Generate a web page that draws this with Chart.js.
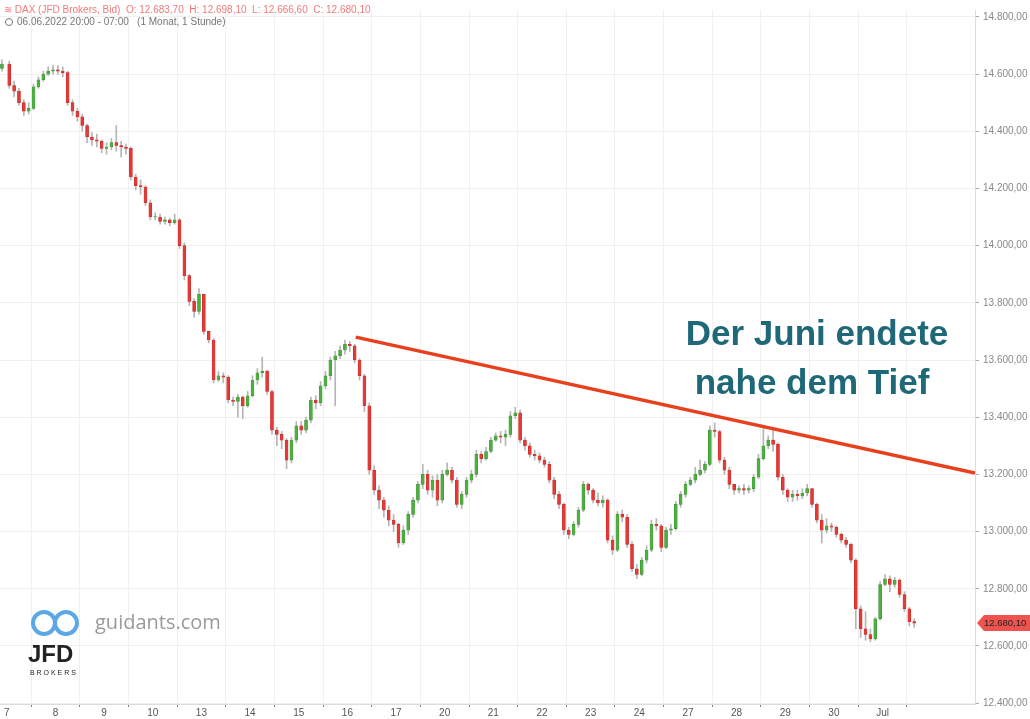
<!DOCTYPE html>
<html>
<head>
<meta charset="utf-8">
<script src="https://cdn.jsdelivr.net/npm/chart.js@4"></script>
<style>
  body { margin: 0; background: #fff; }
  canvas { display: block; }
</style>
</head>
<body>
<canvas id="dax" width="1030" height="719"></canvas>
<script>
// trading days shown on the x axis (index = position)
const dayLabels = ['7', '8', '9', '10', '13', '14', '15', '16', '17', '20', '21', '22', '23', '24', '27', '28', '29', '30', 'Jul'];
// candles per day (first bucket is the 6.6. evening candle)
const candlesPerDay = [1, 10, 10, 10, 10, 10, 10, 10, 10, 10, 10, 10, 10, 10, 10, 10, 10, 10, 10, 7];
const firstOpen = 14620;

const closes = [
  14635,
  14560, 14540, 14500, 14470, 14480, 14555, 14580, 14600, 14610, 14615,
  14610, 14605, 14500, 14470, 14450, 14420, 14380, 14370, 14365, 14340,
  14345, 14360, 14350, 14345, 14340, 14240, 14210, 14205, 14150, 14100,
  14100, 14085, 14090, 14080, 14090, 14000, 13895, 13805, 13770, 13830,
  13700, 13670, 13530, 13545, 13540, 13460, 13455, 13470, 13440, 13475,
  13530, 13555, 13560, 13490, 13355, 13340, 13320, 13250, 13320, 13370,
  13355, 13390, 13460, 13450, 13510, 13545, 13600, 13615, 13635, 13655,
  13650, 13600, 13545, 13440, 13215, 13145, 13110, 13075, 13040, 13025,
  12960, 13005, 13060, 13110, 13165, 13200, 13145, 13180, 13110, 13200,
  13215, 13180, 13095, 13130, 13180, 13200, 13270, 13255, 13280, 13320,
  13335, 13330, 13340, 13405, 13415, 13320, 13300, 13270, 13265, 13250,
  13235, 13180, 13130, 13095, 13005, 12990, 13025, 13075, 13165, 13145,
  13110, 13100, 13110, 12970, 12935, 13060, 13050, 12955, 12870, 12850,
  12900, 12935, 13025, 13020, 12945, 13005, 13010, 13095, 13130, 13165,
  13180, 13200, 13215, 13235, 13355, 13350, 13250, 13215, 13165, 13145,
  13150, 13145, 13150, 13190, 13255, 13300, 13320, 13305, 13190, 13145,
  13120, 13130, 13125, 13135, 13150, 13095, 13040, 13005, 13020, 13015,
  12990, 12970, 12955, 12900, 12730, 12660, 12640, 12625, 12695, 12815,
  12835, 12815, 12830, 12780, 12730, 12685, 12680
];
const highs = [
  14650,
  14645, 14575, 14550, 14510, 14500, 14565, 14590, 14610, 14625, 14630,
  14630, 14625, 14610, 14510, 14480, 14460, 14425, 14395, 14390, 14370,
  14360, 14375, 14420, 14365, 14355, 14345, 14250, 14230, 14210, 14160,
  14115, 14110, 14100, 14095, 14110, 14095, 14010, 13900, 13815, 13850,
  13715, 13700, 13675, 13560, 13555, 13545, 13470, 13480, 13475, 13490,
  13545, 13570, 13610, 13565, 13495, 13365, 13350, 13325, 13330, 13385,
  13385, 13400, 13470, 13475, 13525, 13560, 13610, 13630, 13650, 13670,
  13665, 13655, 13605, 13550, 13450, 13230, 13160, 13120, 13090, 13060,
  13030, 13020, 13070, 13120, 13175, 13235, 13215, 13195, 13200, 13215,
  13240, 13225, 13190, 13140, 13190, 13215, 13285, 13280, 13295, 13330,
  13345, 13350, 13355, 13420, 13435, 13425, 13330, 13310, 13285, 13275,
  13260, 13245, 13190, 13140, 13100, 13015, 13035, 13085, 13175, 13170,
  13150, 13135, 13125, 13115, 12985, 13070, 13075, 13060, 12965, 12885,
  12910, 12950, 13040, 13045, 13025, 13015, 13025, 13105, 13140, 13175,
  13190, 13225, 13250, 13245, 13370, 13380, 13355, 13260, 13225, 13160,
  13160, 13165, 13160, 13200, 13270, 13360, 13335, 13360, 13310, 13200,
  13150, 13145, 13145, 13150, 13165, 13150, 13100, 13060, 13045, 13030,
  13020, 12995, 12980, 12960, 12905, 12740, 12720, 12660, 12700, 12825,
  12850, 12845, 12840, 12835, 12790, 12735, 12695
];
const lows = [
  14610,
  14550, 14520, 14490, 14455, 14460, 14475, 14550, 14575, 14595, 14600,
  14600, 14590, 14490, 14455, 14435, 14400, 14360, 14350, 14345, 14325,
  14320, 14335, 14330, 14310, 14320, 14230, 14195, 14180, 14140, 14090,
  14090, 14075, 14075, 14070, 14075, 13990, 13880, 13790, 13750, 13760,
  13690, 13660, 13520, 13525, 13520, 13450, 13440, 13400, 13395, 13435,
  13470, 13515, 13540, 13480, 13340, 13300, 13290, 13220, 13240, 13310,
  13340, 13345, 13380, 13430, 13440, 13500, 13530, 13440, 13605, 13620,
  13630, 13590, 13530, 13420, 13200, 13130, 13080, 13050, 13020, 13000,
  12945, 12955, 12990, 13050, 13100, 13150, 13130, 13120, 13090, 13100,
  13195, 13170, 13085, 13080, 13120, 13170, 13190, 13240, 13250, 13275,
  13315, 13310, 13300, 13330, 13395, 13310, 13285, 13260, 13250, 13240,
  13225, 13170, 13115, 13080, 12990, 12975, 12985, 13015, 13070, 13130,
  13100, 13090, 13085, 12960, 12920, 12930, 13035, 12945, 12860, 12835,
  12845, 12890, 12930, 13005, 12930, 12940, 12990, 13005, 13085, 13120,
  13160, 13170, 13195, 13205, 13230, 13330, 13240, 13200, 13150, 13130,
  13135, 13130, 13135, 13140, 13185, 13250, 13290, 13280, 13180, 13130,
  13105, 13105, 13110, 13115, 13125, 13085, 13030, 12960, 12995, 13000,
  12980, 12960, 12945, 12890, 12660, 12630, 12620, 12615, 12620, 12690,
  12810, 12790, 12805, 12770, 12720, 12670, 12665
];
// price axis ticks
const priceTicks = [12400, 12600, 12800, 13000, 13200, 13400, 13600, 13800, 14000, 14200, 14400, 14600, 14800];
// resistance line: from the 16.6. high to the right edge
const trendX = [7.17, 19.9];
const trendY = [13680, 13205];
const lastPrice = 12680.10;

// x position of each candle in "day index" units
const xs = [];
candlesPerDay.forEach((n, d) => {
  for (let k = 0; k < n; k++) {
    xs.push(d === 0 ? -0.1 : (d - 1) + (k + 0.5) / 10);
  }
});
const opens = closes.map((c, i) => i === 0 ? firstOpen : closes[i - 1]);
const up = closes.map((c, i) => c >= opens[i]);

const fmt = v => v.toLocaleString('de-DE', { minimumFractionDigits: 2, maximumFractionDigits: 2 });

const extras = {
  id: 'extras',
  afterDraw(chart) {
    const c = chart.ctx;
    const y = chart.scales.y;
    const area = chart.chartArea;
    c.save();
    // header
    c.font = '10px "Liberation Sans", Arial';
    c.textBaseline = 'middle';
    c.fillStyle = '#f07a7a';
    c.fillText('\u224b DAX (JFD Brokers, Bid)  O: 12.683,70  H: 12.698,10  L: 12.666,60  C: 12.680,10', 4, 10);
    c.fillStyle = '#777';
    c.beginPath(); c.arc(9, 22, 3.5, 0, Math.PI * 2); c.strokeStyle = '#777'; c.lineWidth = 1; c.stroke();
    c.fillText('06.06.2022 20:00 - 07:00   (1 Monat, 1 Stunde)', 17, 22);
    // annotation
    c.font = 'bold 35px "Liberation Sans", Arial';
    c.fillStyle = '#1e6878';
    c.textAlign = 'center';
    c.fillText('Der Juni endete', 817, 335);
    c.fillText('nahe dem Tief', 812, 384);
    // watermark
    c.textAlign = 'left';
    c.font = '20px "Open Sans", "DejaVu Sans"';
    c.fillStyle = '#9a9a9a';
    c.fillText('guidants.com', 95, 623);
    c.strokeStyle = '#5ea7e6'; c.lineWidth = 4;
    c.beginPath(); c.arc(44, 623, 11, 0, Math.PI * 2); c.stroke();
    c.beginPath(); c.arc(66, 623, 11, 0, Math.PI * 2); c.stroke();
    c.font = 'bold 24px "Liberation Sans", Arial';
    c.fillStyle = '#222';
    c.fillText('JFD', 28, 655);
    c.font = '7px "Liberation Sans", Arial';
    c.fillText('B R O K E R S', 30, 673);
    // price tag
    const py = y.getPixelForValue(lastPrice);
    c.fillStyle = '#ef5350';
    c.beginPath();
    c.moveTo(area.right + 2, py);
    c.lineTo(area.right + 9, py - 8);
    c.lineTo(1030, py - 8);
    c.lineTo(1030, py + 8);
    c.lineTo(area.right + 9, py + 8);
    c.closePath(); c.fill();
    c.fillStyle = '#222';
    c.font = '9.5px "Liberation Sans", Arial';
    c.fillText(fmt(lastPrice), area.right + 9, py);
    c.restore();
  }
};

new Chart(document.getElementById('dax'), {
  type: 'bar',
  data: {
    datasets: [
      {
        label: 'Docht',
        data: xs.map((x, i) => ({ x, y: [lows[i], highs[i]] })),
        backgroundColor: '#b5b5b5',
        barThickness: 1,
        grouped: false,
        order: 3
      },
      {
        label: 'Kerze',
        data: xs.map((x, i) => ({ x, y: [opens[i], closes[i] === opens[i] ? closes[i] + 2 : closes[i]] })),
        backgroundColor: up.map(u => u ? '#4caf3f' : '#e53935'),
        borderColor: up.map(u => u ? '#3d8f33' : '#c62828'),
        borderWidth: 0.5,
        borderSkipped: false,
        barThickness: 3,
        grouped: false,
        order: 2
      },
      {
        type: 'line',
        label: 'Trend',
        data: trendX.map((x, i) => ({ x, y: trendY[i] })),
        borderColor: '#e8401c',
        borderWidth: 3.5,
        pointRadius: 0,
        order: 1
      }
    ]
  },
  options: {
    responsive: false,
    animation: false,
    layout: { padding: 0 },
    plugins: { legend: { display: false }, tooltip: { enabled: false } },
    scales: {
      x: {
        type: 'linear',
        min: -0.14,
        max: 19.9,
        offset: false,
        afterBuildTicks: s => { s.ticks = dayLabels.map((l, i) => ({ value: i })); },
        grid: { color: '#f0f0f0', tickLength: 3, tickColor: '#888' },
        border: { color: '#ddd' },
        ticks: {
          autoSkip: false,
          maxRotation: 0,
          padding: 0,
          color: '#555',
          font: { size: 10, family: '"Liberation Sans", Arial' },
          callback: v => dayLabels[v] ?? ''
        }
      },
      y: {
        position: 'right',
        min: 12397,
        max: 14824,
        afterBuildTicks: s => { s.ticks = priceTicks.map(v => ({ value: v })); },
        grid: { color: '#f0f0f0', tickLength: 4, tickColor: '#aaa' },
        border: { color: '#ddd' },
        afterFit: s => { s.width = 55; },
        ticks: {
          color: '#888',
          padding: 4,
          font: { size: 10, family: '"Liberation Sans", Arial' },
          callback: v => fmt(v)
        }
      }
    }
  },
  plugins: [extras]
});
</script>
</body>
</html>
